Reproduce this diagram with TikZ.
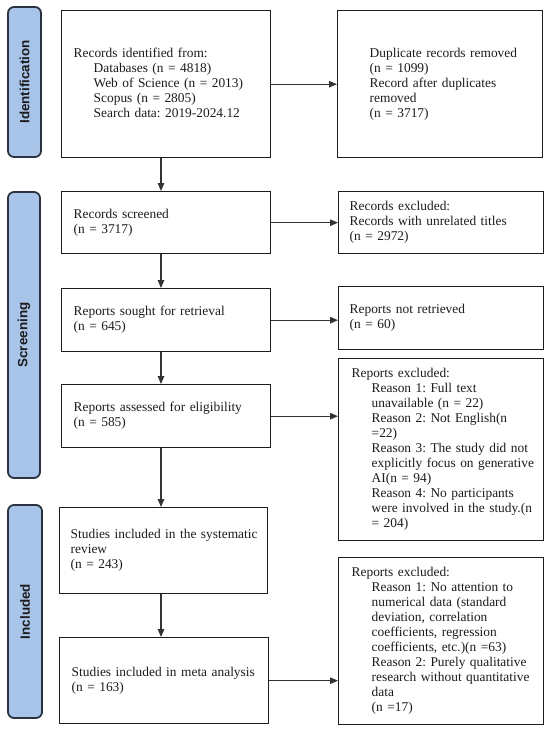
\documentclass[tikz,border=0pt]{standalone}
\usepackage{fontspec}
\setmainfont{Liberation Serif}
\newfontfamily\stagefont{Liberation Sans}
\usetikzlibrary{arrows.meta}
\frenchspacing

\definecolor{stagefill}{HTML}{A9C4E9}
\definecolor{stageline}{HTML}{2B3340}
\definecolor{ink}{HTML}{1C1C1C}

\newcommand\ind{\hspace*{20pt}}
\newcommand\rows[1]{\begin{tabular}{@{}l@{}}#1\end{tabular}}

\tikzset{
	box/.style={draw=ink, line width=1.4pt, anchor=north west, align=left, inner ysep=0pt, text=ink, font=\fontsize{13.4}{15}\selectfont},
	stage/.style={draw=stageline, fill=stagefill, line width=1.8pt, rounded corners=6pt, rotate=90, text=ink, inner sep=0pt, font=\stagefont\bfseries\fontsize{13.4}{15}\selectfont},
	arr/.style={draw=ink!90, line width=1.1pt, -{Triangle[length=8pt,width=6.5pt]}},
}

\begin{document}
\begin{tikzpicture}[x=1pt, y=-1pt]

		\path[fill=white, use as bounding box] (0,0) rectangle (550,730);
		\coordinate (spine) at (161,0);

		% Stage labels
		\node[stage, minimum width=150pt, minimum height=33pt] (lident) at (24.5,82) {Identification};
		\node[stage, minimum width=286pt, minimum height=32pt] (lscreen) at (24,335) {Screening};
		\node[stage, minimum width=213pt, minimum height=34pt] (lincl) at (25,611.5) {Included};

		% Identification
		\node[box, text width=185pt, inner xsep=12pt, minimum height=147pt] (ident) at (61,10)
			{\rows{Records identified from:\\
				\ind Databases (n = 4818)\\
				\ind Web of Science (n = 2013)\\
				\ind Scopus (n = 2805)\\
				\ind Search data: 2019-2024.12}};
		\node[box, text width=141pt, inner xsep=32pt, minimum height=147pt] (dup) at (337,10)
			{\rows{Duplicate records removed\\
				(n = 1099)\\
				Record after duplicates\\
				removed\\
				(n = 3717)}};

		% Screening
		\node[box, text width=185pt, inner xsep=12pt, minimum height=62pt] (screened) at (61,191)
			{\rows{Records screened\\ (n = 3717)}};
		\node[box, text width=183pt, inner xsep=11pt, minimum height=62pt] (excl) at (338,191)
			{\rows{Records excluded:\\ Records with unrelated titles\\ (n = 2972)}};
		\node[box, text width=185pt, inner xsep=12pt, minimum height=63pt] (sought) at (61,288)
			{\rows{Reports sought for retrieval\\ (n = 645)}};
		\node[box, text width=183pt, inner xsep=11pt, minimum height=63pt] (notret) at (338,286)
			{\rows{Reports not retrieved\\ (n = 60)}};
		\node[box, text width=185pt, inner xsep=12pt, minimum height=63pt] (assessed) at (61,384)
			{\rows{Reports assessed for eligibility\\ (n = 585)}};
		\node[box, text width=179pt, inner xsep=13pt, minimum height=182pt] (rexcl) at (338,358)
			{\rows{Reports excluded:\\
				\ind Reason 1: Full text\\
				\ind unavailable (n = 22)\\
				\ind Reason 2: Not English(n\\
				\ind =22)\\
				\ind Reason 3: The study did not\\
				\ind explicitly focus on generative\\
				\ind AI(n = 94)\\
				\ind Reason 4: No participants\\
				\ind were involved in the study.(n\\
				\ind = 204)}};

		% Included
		\node[box, text width=186pt, inner xsep=11pt, minimum height=86pt] (review) at (59,507)
			{\rows{Studies included in the systematic\\ review\\ (n = 243)}};
		\node[box, text width=185pt, inner xsep=12pt, minimum height=86pt] (meta) at (59,637)
			{\rows{Studies included in meta analysis\\ (n = 163)}};
		\node[box, text width=179pt, inner xsep=13pt, minimum height=167pt] (mexcl) at (338,557)
			{\rows{Reports excluded:\\
				\ind Reason 1: No attention to\\
				\ind numerical data (standard\\
				\ind deviation, correlation\\
				\ind coefficients, regression\\
				\ind coefficients, etc.)(n =63)\\
				\ind Reason 2: Purely qualitative\\
				\ind research without quantitative\\
				\ind data\\
				\ind (n =17)}};

		% Arrows down the main column
		\draw[arr] (ident.south -| spine) -- (screened.north -| spine);
		\draw[arr] (screened.south -| spine) -- (sought.north -| spine);
		\draw[arr] (sought.south -| spine) -- (assessed.north -| spine);
		\draw[arr] (assessed.south -| spine) -- (review.north -| spine);
		\draw[arr] (review.south -| spine) -- (meta.north -| spine);

		% Arrows to the side boxes
		\draw[arr] (ident.east) -- (ident.east -| dup.west);
		\draw[arr] (screened.east) -- (screened.east -| excl.west);
		\draw[arr] (sought.east) -- (sought.east -| notret.west);
		\draw[arr] (assessed.east) -- (assessed.east -| rexcl.west);
		\draw[arr] (meta.east) -- (meta.east -| mexcl.west);

	\end{tikzpicture}
\end{document}
